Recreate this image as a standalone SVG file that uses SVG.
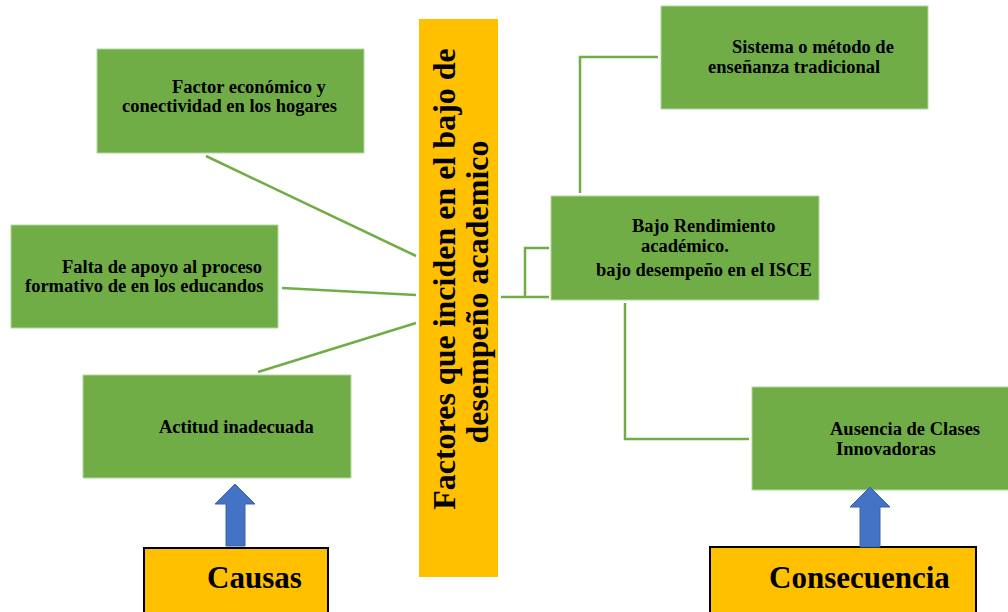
<svg xmlns="http://www.w3.org/2000/svg" width="1008" height="612" viewBox="0 0 1008 612">
<style>
.box{fill:#70AD47;stroke:#B5D6A0;stroke-width:1}
.t{font-family:"Liberation Serif","Times New Roman",serif;font-weight:bold;font-size:18.5px;fill:#000}
.big{font-family:"Liberation Serif","Times New Roman",serif;font-weight:bold;font-size:31px;fill:#000}
.title{font-family:"Liberation Serif","Times New Roman",serif;font-weight:bold;font-size:32px;fill:#000}
.lab{fill:#FFC000;stroke:#000;stroke-width:2}
.con{fill:none;stroke:#70AD47;stroke-width:2.5}
.arr{fill:#4472C4;stroke:#3A62A8;stroke-width:1}
</style>
<rect width="1008" height="612" fill="#fff"/>
<g id="connectors">
<line class="con" x1="206" y1="156" x2="416" y2="256"/>
<line class="con" x1="282" y1="288" x2="416" y2="295"/>
<line class="con" x1="258" y1="372" x2="416" y2="323"/>
<polyline class="con" points="501,297 549,297"/>
<polyline class="con" points="549,248 525,248 525,297"/>
<polyline class="con" points="580,193 580,57 658,57"/>
<polyline class="con" points="625,303 625,439 749,439"/>
</g>
<g id="title">
<rect x="419" y="19" width="79" height="558" fill="#FFC000"/>
<text class="title" transform="translate(455,279) rotate(-90)" text-anchor="middle">Factores que inciden en el bajo de</text>
<text class="title" transform="translate(488,292) rotate(-90)" text-anchor="middle">desempeño academico</text>
</g>
<g id="factor-economico">
<rect class="box" x="97" y="49" width="267" height="104"/>
<text class="t" x="172" y="93">Factor económico y</text>
<text class="t" x="122" y="112">conectividad en los hogares</text>
</g>
<g id="falta-apoyo">
<rect class="box" x="11" y="225" width="267" height="103"/>
<text class="t" x="62" y="273">Falta de apoyo al proceso</text>
<text class="t" x="25" y="292">formativo de en los educandos</text>
</g>
<g id="actitud">
<rect class="box" x="83" y="375" width="268" height="103"/>
<text class="t" x="159" y="433">Actitud inadecuada</text>
</g>
<g id="sistema">
<rect class="box" x="661" y="6" width="267" height="103"/>
<text class="t" x="732" y="53">Sistema o método de</text>
<text class="t" x="708" y="73">enseñanza tradicional</text>
</g>
<g id="bajo-rendimiento">
<rect class="box" x="551" y="196" width="268" height="104"/>
<text class="t" x="632" y="232">Bajo Rendimiento</text>
<text class="t" x="641" y="252">académico.</text>
<text class="t" x="596" y="276">bajo desempeño en el ISCE</text>
</g>
<g id="ausencia">
<rect class="box" x="752" y="387" width="260" height="103"/>
<text class="t" x="830" y="435">Ausencia de Clases</text>
<text class="t" x="836" y="455">Innovadoras</text>
</g>
<g id="causas">
<rect class="lab" x="144" y="548" width="184" height="70"/>
<text class="big" x="207" y="588">Causas</text>
</g>
<g id="consecuencia">
<rect class="lab" x="710" y="547" width="266" height="70"/>
<text class="big" x="769" y="588">Consecuencia</text>
</g>
<g id="arrows">
<polygon class="arr" points="235,484 255,504 245,504 245,546 226,546 226,504 215,504"/>
<polygon class="arr" points="870,487 890,507 880,507 880,547 860,547 860,507 850,507"/>
</g>
</svg>
